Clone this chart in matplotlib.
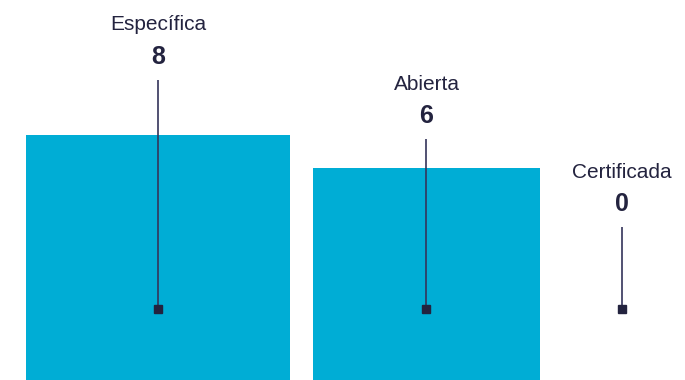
import numpy as np
import matplotlib
matplotlib.use("Agg")
import matplotlib.pyplot as plt
from matplotlib.patches import Rectangle

categories = ["Específica", "Abierta", "Certificada"]
values = [8, 6, 0]

# layout (pixel space)
W, H = 685, 380
centers = [158, 426.5, 622]
label_y = [25, 84, 172]
marker_y = 309
scale_w = 93.0
scale_h = 86.6
bar_color = "#00ADD5"
ink = "#23233F"

fig = plt.figure(figsize=(W / 100, H / 100), dpi=100)
ax = fig.add_axes([0, 0, 1, 1])
ax.set_xlim(0, W)
ax.set_ylim(H, 0)
ax.axis("off")

for cat, v, cx, ly in zip(categories, values, centers, label_y):
    w = scale_w * np.sqrt(v)
    h = scale_h * np.sqrt(v)
    if v > 0:
        ax.add_patch(Rectangle((cx - w / 2, H - h), w, h, color=bar_color, lw=0, zorder=1))
    ax.text(cx, ly, cat, ha="center", va="center", fontsize=15,
            family="Liberation Sans", color=ink, zorder=3)
    ax.text(cx, ly + 32, f"{v}", ha="center", va="center", fontsize=18,
            family="Liberation Sans", fontweight="bold", color=ink, zorder=3)
    ax.plot([cx, cx], [ly + 55, marker_y], color="#34345A", lw=1.2, zorder=2,
            solid_capstyle="butt")
    ax.plot([cx], [marker_y], marker="s", markersize=6, color=ink, zorder=4)

fig.savefig("out.png", dpi=100)
